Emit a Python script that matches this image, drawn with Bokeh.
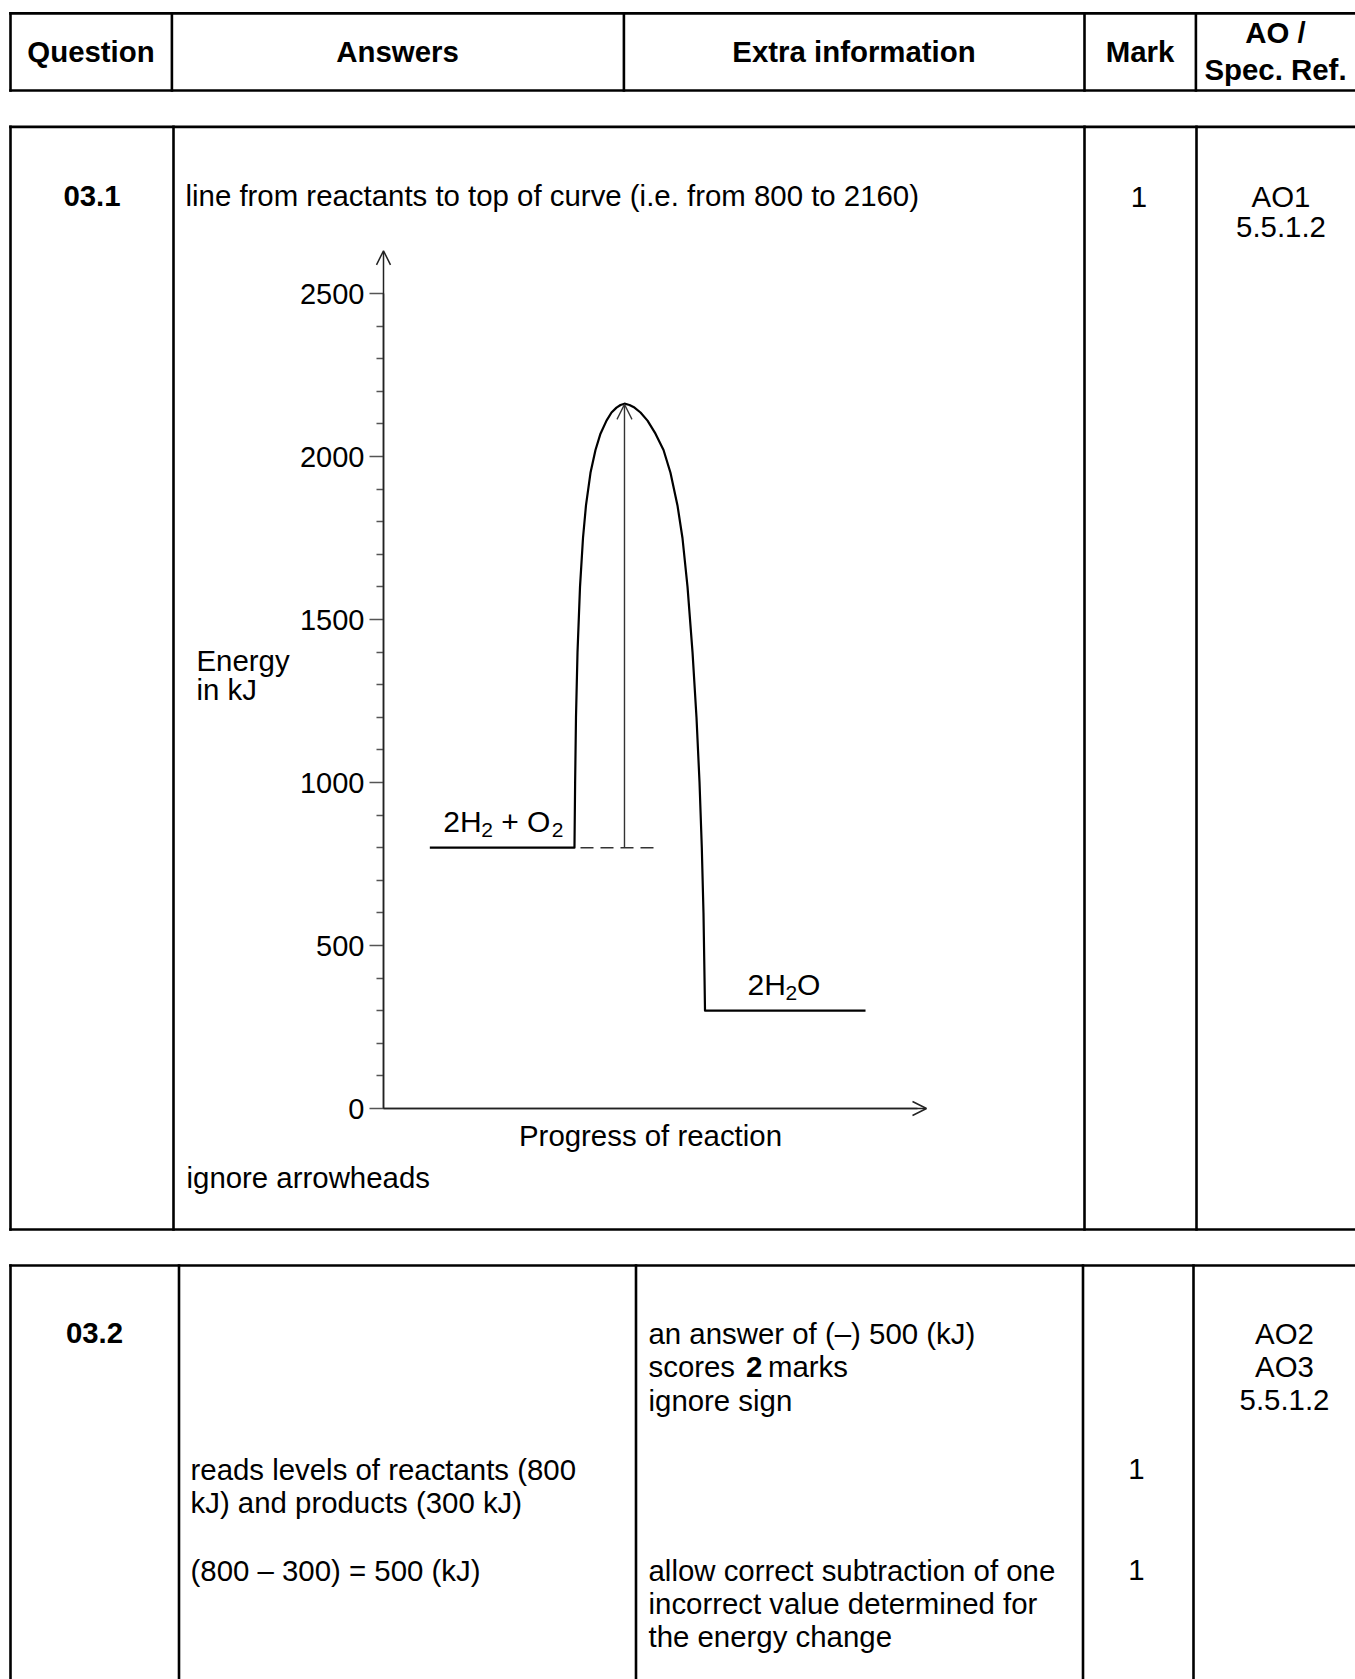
from bokeh.plotting import figure
from bokeh.models import Range1d, LinearAxis, FixedTicker, ColumnDataSource, Arrow, OpenHead
from bokeh.core.properties import value
from bokeh.embed import file_html
from bokeh.resources import INLINE

# ---------------- data ----------------
energy_major_ticks = [0, 500, 1000, 1500, 2000, 2500]
energy_minor_ticks = [100, 200, 300, 400, 600, 700, 800, 900, 1100, 1200, 1300, 1400,
                      1600, 1700, 1800, 1900, 2100, 2200, 2300, 2400]
energy_axis_top = 2631          # arrow tip of energy axis (kJ)
progress_axis_end = 10.0        # arrow tip of progress axis (arbitrary units)

reactant_energy = 800
product_energy = 300
peak_energy = 2160
reactant_x = [0.853, 3.517]
product_x = [5.921, 8.877]
peak_x = 4.438
dashed_x = [3.628, 5.101]

# energy profile between reactants and products
curve_x = [3.517, 3.529, 3.545, 3.573, 3.619, 3.674, 3.729, 3.812, 3.904, 3.996,
           4.107, 4.199, 4.291, 4.365, 4.438,
           4.530, 4.622, 4.733, 4.862, 5.009, 5.157, 5.285, 5.414, 5.506, 5.599,
           5.691, 5.764, 5.820, 5.862, 5.893, 5.912, 5.921]
curve_energy = [800, 1000, 1200, 1400, 1600, 1750, 1850, 1950, 2020, 2070,
                2110, 2135, 2150, 2158, 2162,
                2158, 2150, 2135, 2110, 2070, 2020, 1950, 1850, 1750, 1600,
                1400, 1200, 1000, 800, 600, 400, 300]

# table texts
header_labels = ["Question", "Answers", "Extra information", "Mark"]
ao_header = ["AO /", "Spec. Ref."]
q1_number = "03.1"
q1_answer = "line from reactants to top of curve (i.e. from 800 to 2160)"
q1_mark = "1"
q1_ao = ["AO1", "5.5.1.2"]
q1_note = "ignore arrowheads"
q2_number = "03.2"
q2_extra_top = ["an answer of (\u2013) 500 (kJ)", "scores", "2", "marks", "ignore sign"]
q2_ao = ["AO2", "AO3", "5.5.1.2"]
q2_answer1 = ["reads levels of reactants (800", "kJ) and products (300 kJ)"]
q2_answer2 = "(800 \u2013 300) = 500 (kJ)"
q2_extra2 = ["allow correct subtraction of one", "incorrect value determined for",
             "the energy change"]
q2_marks = ["1", "1"]
y_axis_title = ["Energy", "in kJ"]
x_axis_title = "Progress of reaction"

# ---------------- layout constants (page pixels) ----------------
W, H = 1355, 1679
PX0, PY0 = 0, 0
AX_X, PX_PER_UNIT = 383.0, 54.3     # progress axis origin and scale
AX_Y, PX_PER_KJ = 1108.0, 0.326     # energy axis origin and scale
FONT = value("Liberation Sans")
FS = "29.4px"

p = figure(width=W, height=H,
           x_range=Range1d(PX0, PX0 + W), y_range=Range1d(PY0 + H, PY0),
           x_axis_type=None, y_axis_type=None,
           toolbar_location=None, output_backend="svg", min_border=0)
p.outline_line_color = None
p.background_fill_color = "white"
p.border_fill_color = "white"

p.extra_x_ranges = {"progress": Range1d((PX0 - AX_X) / PX_PER_UNIT,
                                        (PX0 + W - AX_X) / PX_PER_UNIT)}
p.extra_y_ranges = {"energy": Range1d((AX_Y - (PY0 + H)) / PX_PER_KJ,
                                      (AX_Y - PY0) / PX_PER_KJ)}

# ---------------- table grid ----------------
LW = 2.6
hx0, hx1 = [], []
hy0, hy1 = [], []
def hline(y, xa, xb):
    hx0.append(xa); hx1.append(xb); hy0.append(y); hy1.append(y)
def vline(x, ya, yb):
    hx0.append(x); hx1.append(x); hy0.append(ya); hy1.append(yb)

# header table
hline(12.9, 10, 1360); hline(90, 10, 1360)
for x in [10, 171.4, 623.4, 1084, 1195.4]:
    vline(x, 12.9, 90)
# question 03.1 table
hline(126.4, 10, 1360); hline(1229, 10, 1360)
for x in [10, 173, 1084, 1196]:
    vline(x, 126.4, 1229)
# question 03.2 table
hline(1265, 10, 1360)
for x in [10, 178.5, 635.5, 1082.5, 1193]:
    vline(x, 1265, 1690)
p.segment(hx0, hy0, hx1, hy1, line_width=LW, line_color="black", line_cap="square")

# ---------------- table texts ----------------
def texts(xs, ys, ts, align="left", bold=False, size=FS):
    src = ColumnDataSource(dict(x=xs, y=ys, t=ts))
    p.text("x", "y", text="t", source=src, text_font=FONT, text_font_size=size,
           text_font_style="bold" if bold else "normal", text_align=align,
           text_baseline="alphabetic", text_color="black")

texts([90.5, 397, 853.5, 1139.5], [51.1] * 4, header_labels, align="center", bold=True)
texts([1275, 1275], [31.5, 69.1], ao_header, align="center", bold=True)

texts([91.5], [195.1], [q1_number], align="center", bold=True)
texts([185], [195.1], [q1_answer])
texts([1138.5, 1280.5, 1280.5], [196.1, 196.1, 226.6], [q1_mark] + q1_ao, align="center")
texts([186], [1177.1], [q1_note])

D = 2.5
texts([94], [1330.1 + D], [q2_number], align="center", bold=True)
texts([648, 648], [1330.1 + D, 1397.1 + D], [q2_extra_top[0], q2_extra_top[4]])
texts([648], [1363.6 + D], [q2_extra_top[1]])
texts([745.5], [1363.6 + D], [q2_extra_top[2]], bold=True)
texts([767.5], [1363.6 + D], [q2_extra_top[3]])
texts([1284] * 3, [1330.1 + D, 1363.6 + D, 1397.1 + D], q2_ao, align="center")
texts([190, 190], [1466.1 + D, 1499.1 + D], q2_answer1)
texts([190], [1567.1 + D], [q2_answer2])
texts([648] * 3, [1567.1 + D, 1600.1 + D, 1633.1 + D], q2_extra2)
texts([1136, 1136], [1466.1 + D, 1567.1 + D], q2_marks, align="center")

# ---------------- energy diagram ----------------
CH = dict(x_range_name="progress", y_range_name="energy")

yax = LinearAxis(fixed_location=0, bounds=(0, energy_major_ticks[-1]),
                 ticker=FixedTicker(ticks=energy_major_ticks, minor_ticks=energy_minor_ticks),
                 **CH)
yax.axis_line_width = 1.5
yax.axis_line_color = "#222222"
yax.major_tick_in = 0
yax.major_tick_out = 14
yax.minor_tick_in = 0
yax.minor_tick_out = 7
yax.major_tick_line_color = "#555555"
yax.minor_tick_line_color = "#555555"
yax.major_tick_line_width = 1.3
yax.minor_tick_line_width = 1.3
yax.major_label_text_font = "Liberation Sans"
yax.major_label_text_font_size = "29px"
yax.major_label_text_color = "black"
yax.major_label_standoff = 5
p.add_layout(yax, "left")

xax = LinearAxis(fixed_location=0, bounds=(0, 9.83), ticker=FixedTicker(ticks=[]), **CH)
xax.axis_line_width = 1.5
xax.axis_line_color = "#222222"
xax.major_tick_out = 0
xax.major_tick_in = 0
xax.minor_tick_out = 0
xax.minor_tick_in = 0
xax.axis_label = x_axis_title
xax.axis_label_text_font = "Liberation Sans"
xax.axis_label_text_font_size = FS
xax.axis_label_text_font_style = "normal"
xax.axis_label_text_color = "black"
xax.axis_label_standoff = 10
p.add_layout(xax, "below")

# axis arrows
p.add_layout(Arrow(end=OpenHead(size=14, line_width=1.5, line_color="#222222"),
                   x_start=0, y_start=0, x_end=0, y_end=energy_axis_top,
                   line_width=1.5, line_color="#222222", **CH))
p.add_layout(Arrow(end=OpenHead(size=14, line_width=1.5, line_color="#222222"),
                   x_start=0, y_start=0, x_end=progress_axis_end, y_end=0,
                   line_width=1.5, line_color="#222222", **CH))

# energy profile
profile_x = [reactant_x[0]] + curve_x + [product_x[1]]
profile_e = [reactant_energy] + curve_energy + [product_energy]
p.line(profile_x, profile_e, line_width=2.2, line_color="black", line_join="round", **CH)

# dashed reactant level and activation-energy arrow
p.line(dashed_x, [reactant_energy] * 2, line_width=1.4, line_color="#333333",
       line_dash="13 7", **CH)
p.add_layout(Arrow(end=OpenHead(size=15, line_width=1.3, line_color="#333333"),
                   x_start=peak_x, y_start=reactant_energy, x_end=peak_x, y_end=peak_energy,
                   line_width=1.4, line_color="#333333", **CH))

# species labels
def chart_text(x, y, t, dx, dy, size):
    p.text([x], [y], text=[t], x_offset=dx, y_offset=dy, text_font=FONT,
           text_font_size=size, text_align="left", text_baseline="alphabetic",
           text_color="black", **CH)

MAIN_DY, SUB_DY = -26.5, -17.5
rx = reactant_x[0] + (442.7 - (AX_X + reactant_x[0] * PX_PER_UNIT)) / PX_PER_UNIT
chart_text(rx, reactant_energy, "2H", 0, MAIN_DY, "30px")
chart_text(rx, reactant_energy, "2", 38, SUB_DY, "21px")
chart_text(rx, reactant_energy, "+ O", 58, MAIN_DY, "30px")
chart_text(rx, reactant_energy, "2", 108.5, SUB_DY, "21px")

px_ = product_x[0] + (747.0 - (AX_X + product_x[0] * PX_PER_UNIT)) / PX_PER_UNIT
chart_text(px_, product_energy, "2H", 0, MAIN_DY, "30px")
chart_text(px_, product_energy, "2", 38, SUB_DY, "21px")
chart_text(px_, product_energy, "O", 49.5, MAIN_DY, "30px")

# y-axis title (horizontal, two lines)
texts([196, 196], [659.5, 689.0], y_axis_title)

open("out.html", "w").write(file_html(p, INLINE))
